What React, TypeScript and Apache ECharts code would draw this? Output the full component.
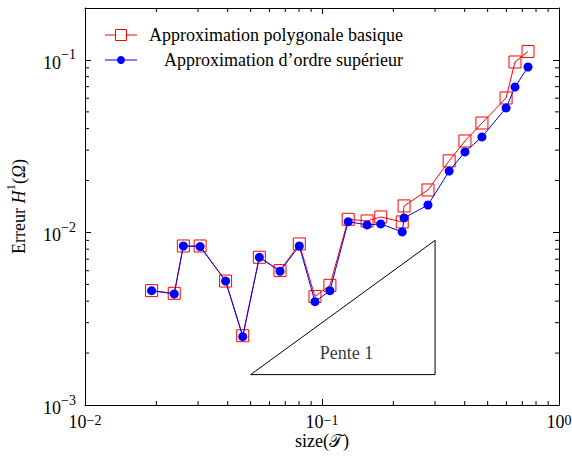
import React, { useEffect, useRef } from "react";
import * as echarts from "echarts";

// mesh sizes
const sizes = [0.0191, 0.0238, 0.026, 0.0306, 0.0392, 0.0463, 0.0544, 0.0665, 0.0802, 0.0934, 0.108, 0.129, 0.155, 0.177, 0.218, 0.222, 0.28, 0.344, 0.401, 0.473, 0.598, 0.652, 0.74];
// errors, basic polygonal approximation
const errPoly = [0.0046, 0.00444, 0.00835, 0.00835, 0.00523, 0.00252, 0.00718, 0.00601, 0.00858, 0.00425, 0.00494, 0.01192, 0.01166, 0.0123, 0.01151, 0.01425, 0.01763, 0.026, 0.0339, 0.0431, 0.0602, 0.0973, 0.112];
// errors, higher-order approximation
const errHigh = [0.0046, 0.0044, 0.00835, 0.00828, 0.00523, 0.00249, 0.00718, 0.00596, 0.00835, 0.00397, 0.0046, 0.01155, 0.01106, 0.0112, 0.01007, 0.01214, 0.01443, 0.0227, 0.0293, 0.0358, 0.0527, 0.0697, 0.091];
// slope triangle
const triX = [0.05, 0.3, 0.3, 0.05];
const triY = [0.0015, 0.0015, 0.009, 0.0015];
const slopeLabelPos = [0.127, 0.002];
const slopeLabel = "Pente 1";
// axes
const xRange = [0.01, 1];
const yRange = [0.001, 0.2];
const xMinorTicks = [0.02, 0.03, 0.04, 0.05, 0.06, 0.07, 0.08, 0.09, 0.2, 0.3, 0.4, 0.5, 0.6, 0.7, 0.8, 0.9];
const yMinorTicks = [0.002, 0.003, 0.004, 0.005, 0.006, 0.007, 0.008, 0.009, 0.02, 0.03, 0.04, 0.05, 0.06, 0.07, 0.08, 0.09];
const legendNames = ["Approximation polygonale basique", "Approximation d\u2019ordre sup\u00e9rieur"];

const FONT = '"Liberation Serif", "Times New Roman", serif';

function powLabel(v: number) {
  const l = Math.log10(v);
  const e = Math.round(l);
  if (Math.abs(l - e) > 1e-6) return "";
  const s = (e < 0 ? "\u2212" : "") + Math.abs(e);
  return `{b|10}{s|${s}}`;
}

const labelRichY = {
  b: { fontSize: 18, fontFamily: FONT, color: "#000", lineHeight: 24, verticalAlign: "bottom" },
  s: { fontSize: 14, fontFamily: FONT, color: "#000", lineHeight: 24, verticalAlign: "top" },
};
const labelRichX = {
  b: { fontSize: 18, fontFamily: FONT, color: "#000", lineHeight: 18, verticalAlign: "bottom" },
  s: { fontSize: 14, fontFamily: FONT, color: "#000", lineHeight: 18, verticalAlign: "top", padding: [0, 0, 4, 0] },
};

export default function App() {
  const ref = useRef<HTMLDivElement>(null);
  useEffect(() => {
    if (!ref.current) return;
    const chart = echarts.init(ref.current, undefined, { renderer: "svg" });
    const axisLine = { show: true, onZero: false, lineStyle: { color: "#000", width: 1 } };
    const axisTick = { show: true, inside: true, length: 6, lineStyle: { color: "#000", width: 1 } };
    const minorTickStyle = { stroke: "#000", lineWidth: 1 };
    const option: any = {
      animation: false,
      backgroundColor: "#fff",
      grid: { left: 85, right: 13, top: 8, bottom: 58, containLabel: false, outerBoundsMode: "none" },
      xAxis: [
        {
          type: "log",
          logBase: 10,
          min: xRange[0],
          max: xRange[1],
          position: "bottom",
          axisLine,
          axisTick,
          splitLine: { show: false },
          axisLabel: { formatter: powLabel, rich: labelRichX, margin: 8 },
          name: "{a|size(}{t|\uD835\uDCAF}{a|)}",
          nameLocation: "middle",
          nameGap: 27,
          nameMoveOverlap: false,
          nameTextStyle: {
            rich: {
              a: { fontSize: 18, fontFamily: FONT, color: "#000" },
              t: { fontSize: 18, fontFamily: FONT, color: "#000" },
            },
          },
        },
        {
          type: "log",
          logBase: 10,
          min: xRange[0],
          max: xRange[1],
          position: "top",
          axisLine,
          axisTick,
          splitLine: { show: false },
          axisLabel: { show: false },
        },
      ],
      yAxis: [
        {
          type: "log",
          logBase: 10,
          min: yRange[0],
          max: yRange[1],
          position: "left",
          axisLine,
          axisTick,
          splitLine: { show: false },
          axisLabel: { formatter: powLabel, rich: labelRichY, margin: 9, showMaxLabel: false },
          name: "{a|Erreur }{i|H}{s|1}{a|(}{i|\u03A9}{a|)}",
          nameLocation: "middle",
          nameRotate: 90,
          nameGap: 57,
          nameMoveOverlap: false,
          nameTextStyle: {
            rich: {
              a: { fontSize: 18, fontFamily: FONT, color: "#000", lineHeight: 24, verticalAlign: "bottom" },
              i: { fontSize: 18, fontFamily: FONT, fontStyle: "italic", color: "#000", lineHeight: 24, verticalAlign: "bottom" },
              s: { fontSize: 13, fontFamily: FONT, color: "#000", lineHeight: 24, verticalAlign: "top" },
            },
          },
        },
        {
          type: "log",
          logBase: 10,
          min: yRange[0],
          max: yRange[1],
          position: "right",
          axisLine,
          axisTick,
          splitLine: { show: false },
          axisLabel: { show: false },
        },
      ],
      series: [
        {
          type: "line",
          data: triX.map((x, i) => [x, triY[i]]),
          symbol: "none",
          lineStyle: { color: "#000", width: 1 },
          silent: true,
          z: 1,
        },
        {
          type: "scatter",
          data: [slopeLabelPos],
          symbolSize: 0,
          label: {
            show: true,
            position: "inside",
            formatter: slopeLabel,
            fontFamily: FONT,
            fontSize: 18,
            color: "#000",
          },
          silent: true,
        },
        {
          type: "line",
          name: legendNames[0],
          data: sizes.map((x, i) => [x, errPoly[i]]),
          symbol: "rect",
          symbolSize: 12,
          showAllSymbol: true,
          lineStyle: { color: "#ff0000", width: 1 },
          itemStyle: { color: "rgba(0,0,0,0)", borderColor: "#ff0000", borderWidth: 1 },
          z: 3,
        },
        {
          type: "line",
          name: legendNames[1],
          data: sizes.map((x, i) => [x, errHigh[i]]),
          symbol: "circle",
          symbolSize: 9,
          showAllSymbol: true,
          lineStyle: { color: "#0000ff", width: 1 },
          itemStyle: { color: "#0000ff", borderWidth: 0 },
          z: 4,
        },
        {
          type: "custom",
          data: xMinorTicks.map((v) => [v, 0.01]),
          silent: true,
          clip: false,
          z: 5,
          renderItem: (params: any, api: any) => {
            const p = api.coord([api.value(0), api.value(1)]);
            const cs = params.coordSys;
            const b = cs.y + cs.height;
            return {
              type: "group",
              children: [
                { type: "line", shape: { x1: p[0], y1: b, x2: p[0], y2: b - 4 }, style: minorTickStyle },
                { type: "line", shape: { x1: p[0], y1: cs.y, x2: p[0], y2: cs.y + 4 }, style: minorTickStyle },
              ],
            };
          },
        },
        {
          type: "custom",
          data: yMinorTicks.map((v) => [0.1, v]),
          silent: true,
          clip: false,
          z: 5,
          renderItem: (params: any, api: any) => {
            const p = api.coord([api.value(0), api.value(1)]);
            const cs = params.coordSys;
            const r = cs.x + cs.width;
            return {
              type: "group",
              children: [
                { type: "line", shape: { x1: cs.x, y1: p[1], x2: cs.x + 4, y2: p[1] }, style: minorTickStyle },
                { type: "line", shape: { x1: r, y1: p[1], x2: r - 4, y2: p[1] }, style: minorTickStyle },
              ],
            };
          },
        },
      ],
      graphic: [
        { type: "line", shape: { x1: 105, y1: 35, x2: 137, y2: 35 }, style: { stroke: "#ff0000", lineWidth: 1 }, z: 10 },
        { type: "rect", shape: { x: 115.5, y: 29.5, width: 11, height: 11 }, style: { fill: "#fff", stroke: "#ff0000", lineWidth: 1 }, z: 11 },
        {
          type: "text",
          x: 403,
          y: 35,
          z: 10,
          style: { text: legendNames[0], font: `18px ${FONT}`, fill: "#000", align: "right", verticalAlign: "middle", textAlign: "right", textVerticalAlign: "middle" },
        },
        { type: "line", shape: { x1: 105, y1: 60, x2: 137, y2: 60 }, style: { stroke: "#0000ff", lineWidth: 1 }, z: 10 },
        { type: "circle", shape: { cx: 121, cy: 60, r: 4 }, style: { fill: "#0000ff" }, z: 11 },
        {
          type: "text",
          x: 403,
          y: 60,
          z: 10,
          style: { text: legendNames[1], font: `18px ${FONT}`, fill: "#000", align: "right", verticalAlign: "middle", textAlign: "right", textVerticalAlign: "middle" },
        },
      ],
    };
    chart.setOption(option);
    return () => chart.dispose();
  }, []);
  return (
    <div
      ref={ref}
      style={{ position: "fixed", left: 0, top: 0, width: 572, height: 463, background: "#fff" }}
    />
  );
}
